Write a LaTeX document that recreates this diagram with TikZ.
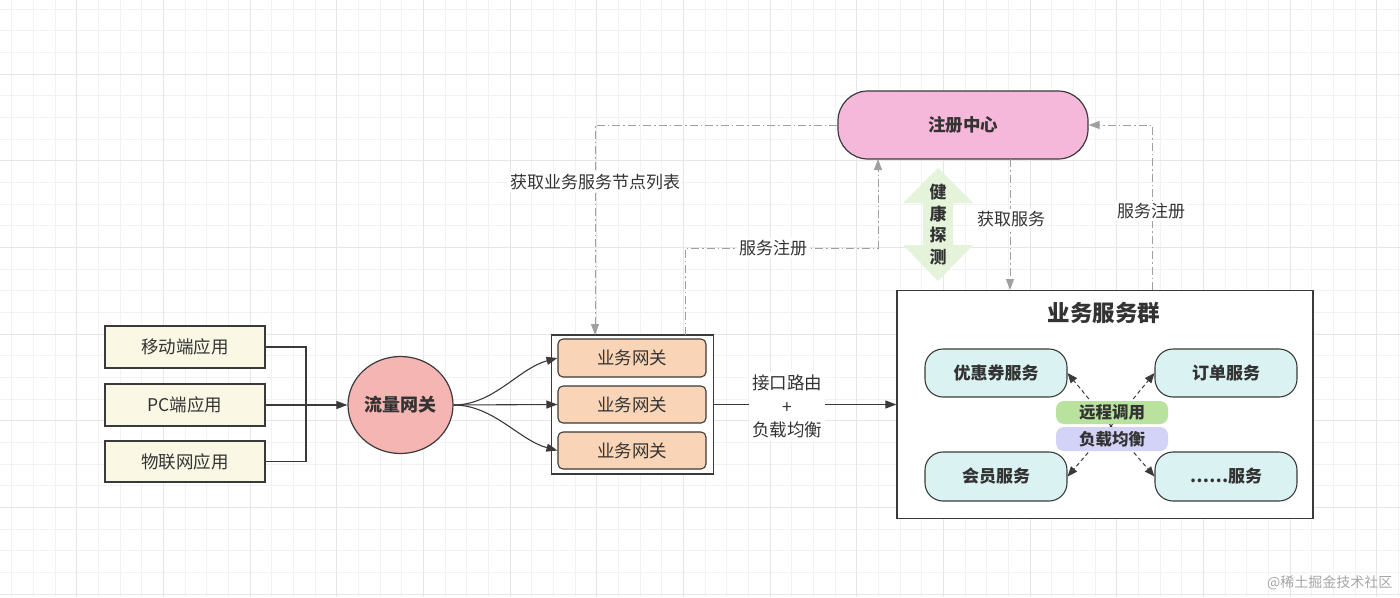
\documentclass[tikz,border=0pt]{standalone}
\usepackage{fontspec}
\setmainfont{Noto Sans CJK SC}
\usetikzlibrary{arrows.meta,shapes.geometric}
\definecolor{txt}{HTML}{333333}
\definecolor{edge}{HTML}{3A3A3A}
\definecolor{dgray}{HTML}{A0A0A0}
\definecolor{gridmin}{HTML}{F2F2F2}
\definecolor{gridmaj}{HTML}{E6E6E6}
\definecolor{cream}{HTML}{FAF8E4}
\definecolor{salmon}{HTML}{F5B5B3}
\definecolor{peach}{HTML}{F9D4B6}
\definecolor{pinkreg}{HTML}{F6B8DA}
\definecolor{cyanbox}{HTML}{DAF2F2}
\definecolor{greenlab}{HTML}{B8E29E}
\definecolor{lavlab}{HTML}{D2D3F6}
\definecolor{healthg}{HTML}{E4F3DA}
\tikzset{
  fs/.style={font=\fontsize{#1}{#1}\selectfont},
  clientbox/.style={draw=edge, line width=1.2pt, fill=cream, minimum width=160pt, minimum height=42pt, text=txt, fs=17.5},
  gwbox/.style={draw=edge, line width=1.1pt, fill=peach, rounded corners=5pt, minimum width=148pt, minimum height=37pt, text=txt, fs=17.5},
  svcbox/.style={draw=edge, line width=1.1pt, fill=cyanbox, rounded corners=18pt, minimum width=142pt, minimum height=48pt, text=txt, font=\bfseries\fontsize{17}{17}\selectfont},
  solidarrow/.style={draw=edge, line width=1.1pt, -{Triangle[length=11pt,width=8pt]}},
  solidline/.style={draw=edge, line width=1.1pt},
  ddline/.style={draw=dgray, line width=1pt, dash pattern=on 8pt off 3pt on 1.5pt off 3pt},
  ddarrow/.style={ddline, -{Triangle[length=11pt,width=8pt]}},
  svcarrow/.style={draw=edge, line width=1pt, dash pattern=on 4pt off 3pt, -{Triangle[length=10pt,width=8pt]}},
  elabel/.style={fill=white, inner sep=2pt, text=txt, fs=17},
  pilllabel/.style={rounded corners=8pt, minimum width=112pt, minimum height=23pt, inner sep=0pt, text=txt, font=\bfseries\fontsize{16.5}{16.5}\selectfont}
}
\begin{document}
\begin{tikzpicture}[x=1pt,y=-1pt]
\useasboundingbox (0,0) rectangle (1400,597);
\fill[white] (0,0) rectangle (1400,597);
% grid
\foreach \i in {0,...,64} {
  \draw[gridmin, line width=0.8pt] ({11.667+\i*21.667},0) -- ++(0,597);
}
\foreach \j in {0,...,27} {
  \draw[gridmin, line width=0.8pt] (0,{9+\j*21.667}) -- ++(1400,0);
}
\foreach \i in {3,7,...,63} {
  \draw[gridmaj, line width=1pt] ({11.667+\i*21.667},0) -- ++(0,597);
}
\foreach \j in {3,7,...,27} {
  \draw[gridmaj, line width=1pt] (0,{9+\j*21.667}) -- ++(1400,0);
}

% client boxes
\node[clientbox] (m1) at (185,347) {移动端应用};
\node[clientbox] (m2) at (185,405) {PC端应用};
\node[clientbox, minimum height=41pt] (m3) at (185,461.5) {物联网应用};

% traffic gateway
\node[ellipse, draw=edge, line width=1.2pt, fill=salmon, minimum width=105pt, minimum height=97pt, inner sep=0pt, text=txt, font=\bfseries\fontsize{18}{18}\selectfont] (gw) at (400.5,405) {流量网关};

\coordinate (j) at (306,405);
\draw[solidline] (m1.east) -| (j);
\draw[solidline] (m3.east) -| (j);
\draw[solidarrow] (m2.east) -- (gw.west);

% business gateways
\node[draw=edge, line width=1.2pt, fill=white, minimum width=162pt, minimum height=139pt, inner sep=0pt] (gwb) at (632.5,404.5) {};
\node[gwbox, minimum height=38pt] (g1) at (632,358) {业务网关};
\node[gwbox] (g2) at (632,404.5) {业务网关};
\node[gwbox] (g3) at (632,450.5) {业务网关};

\draw[solidarrow] (gw.east) to[out=0, in=195, looseness=0.9] (g1.west);
\draw[solidarrow] (gw.east) -- (g2.west);
\draw[solidarrow] (gw.east) to[out=0, in=165, looseness=0.9] (g3.west);

% service group
\node[draw=edge, line width=1.2pt, fill=white, minimum width=416pt, minimum height=228pt, inner sep=0pt] (sg) at (1105,404.5) {};
\node[text=txt, font=\bfseries\fontsize{22.5}{22.5}\selectfont] (sgt) at (1104,313) {业务服务群};

\node[elabel, align=center, font=\fontsize{17.5}{23.5}\selectfont, inner sep=3pt] (route) at (787,406.5) {接口路由\\+\\负载均衡};
\draw[solidline] (gwb.east) -- (gwb.east -| route.west);
\draw[solidarrow] (gwb.east -| route.east) -- (sg.west);

\node[svcbox] (yh) at (996,373) {优惠券服务};
\node[svcbox] (dd) at (1226,373) {订单服务};
\node[svcbox, minimum height=49pt] (hy) at (996,476.5) {会员服务};
\node[svcbox, minimum height=49pt] (et) at (1226,476.5) {……服务};

\coordinate (ctr) at (1111,426);
\draw[svcarrow] (ctr) -- (yh.east);
\draw[svcarrow] (ctr) -- (dd.west);
\draw[svcarrow] (ctr) -- (hy.east);
\draw[svcarrow] (ctr) -- (et.west);

\node[pilllabel, fill=greenlab] (rpc) at (1112,412.5) {远程调用};
\node[pilllabel, fill=lavlab, minimum height=24pt] (lbl) at (1112,439) {负载均衡};

% registry
\node[draw=edge, line width=1.2pt, fill=pinkreg, rounded corners=30pt, minimum width=250pt, minimum height=68pt, inner sep=0pt, text=txt, font=\bfseries\fontsize{17.5}{17.5}\selectfont] (reg) at (963,125) {注册中心};

% health check arrow
\fill[healthg] (938,168) -- (973,203) -- (953,203) -- (953,245) -- (973,245) -- (938,281) -- (903,245) -- (923,245) -- (923,203) -- (903,203) -- cycle;
\node[text=txt, align=center, font=\bfseries\fontsize{17}{21.5}\selectfont, inner sep=0pt] (hc) at (938,224.5) {健\\康\\探\\测};

% dash-dot connectors
\coordinate (t1) at (595,335);
\draw[ddarrow] (reg.west) -| (t1);
\node[elabel] (l1) at (595,182) {获取业务服务节点列表};

\coordinate (s1) at (685,335);
\coordinate (r1) at (878,159);
\draw[ddarrow] (s1) -- (685,248) -| (r1);
\node[elabel] (l2) at (773,248) {服务注册};

\coordinate (r2) at (1010,159);
\coordinate (s2) at (1010,290);
\draw[ddarrow] (r2) -- (s2);
\node[elabel] (l3) at (1011,219) {获取服务};

\coordinate (s3) at (1152,290);
\draw[ddarrow] (s3) |- (reg.east);
\node[elabel] (l4) at (1151,211) {服务注册};

% watermark
\node[text=black!35, font=\fontsize{14}{14}\selectfont, anchor=east] (wm) at (1396,583) {@稀土掘金技术社区};
\end{tikzpicture}
\end{document}
